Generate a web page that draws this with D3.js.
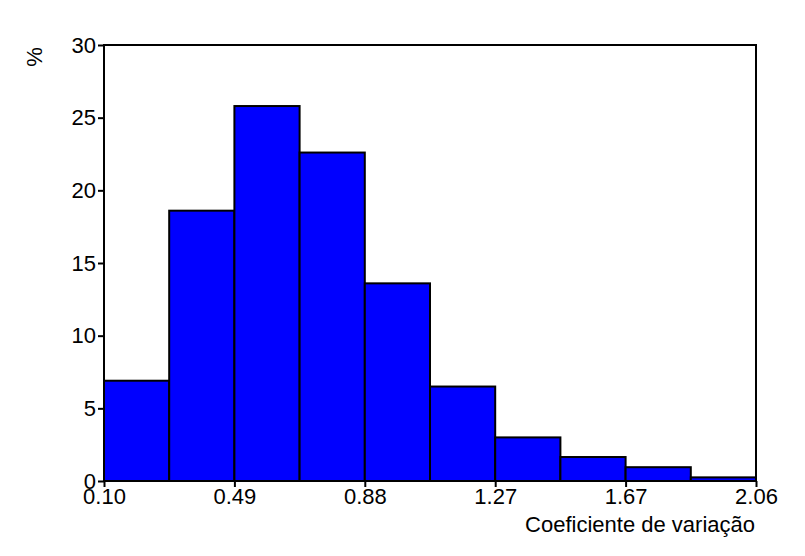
<html>
<head>
<style>
  body { margin: 0; background: white; }
  text { font-family: Arial, "Liberation Sans", sans-serif; }
</style>
</head>
<body>
<script src="https://d3js.org/d3.v7.min.js"></script>
<svg id="chart" width="805" height="556"></svg>
<script>
  // bin edges and percentages
  const binEdges = [0.10, 0.296, 0.492, 0.688, 0.884, 1.08, 1.276, 1.472, 1.668, 1.864, 2.06];
  const percents = [6.9, 18.6, 25.8, 22.6, 13.6, 6.5, 3.0, 1.65, 0.95, 0.25];
  const xTickValues = [0.10, 0.492, 0.884, 1.276, 1.668, 2.06];
  const xTickLabels = ['0.10', '0.49', '0.88', '1.27', '1.67', '2.06'];
  const yTicks = [0, 5, 10, 15, 20, 25, 30];

  const svg = d3.select('#chart');
  const plotLeft = 104, plotRight = 756, plotTop = 45, plotBottom = 481;

  const x = d3.scaleLinear().domain([0.10, 2.06]).range([plotLeft, plotRight]);
  const y = d3.scaleLinear().domain([0, 30]).range([plotBottom, plotTop]);

  svg.selectAll('rect.bar')
    .data(percents)
    .enter().append('rect')
    .attr('class', 'bar')
    .attr('x', (d, i) => x(binEdges[i]))
    .attr('width', (d, i) => x(binEdges[i + 1]) - x(binEdges[i]))
    .attr('y', d => y(d))
    .attr('height', d => plotBottom - y(d))
    .attr('fill', '#0000ff')
    .attr('stroke', 'black')
    .attr('stroke-width', 2);

  // frame
  svg.append('rect')
    .attr('x', plotLeft).attr('y', plotTop)
    .attr('width', plotRight - plotLeft).attr('height', plotBottom - plotTop)
    .attr('fill', 'none').attr('stroke', 'black').attr('stroke-width', 2);

  const yAxis = d3.axisLeft(y).tickValues(yTicks).tickSize(6).tickPadding(2);
  svg.append('g').attr('transform', `translate(${plotLeft},0)`).call(yAxis)
    .call(g => g.select('.domain').remove())
    .call(g => g.selectAll('line').attr('stroke-width', 2))
    .call(g => g.selectAll('text').attr('font-size', 22).attr('fill', 'black')
      .attr('font-family', 'Arial, Liberation Sans, sans-serif'));

  const xAxis = d3.axisBottom(x).tickValues(xTickValues)
    .tickFormat((d, i) => xTickLabels[i]).tickSize(6).tickPadding(1);
  svg.append('g').attr('transform', `translate(0,${plotBottom})`).call(xAxis)
    .call(g => g.select('.domain').remove())
    .call(g => g.selectAll('line').attr('stroke-width', 2))
    .call(g => g.selectAll('text').attr('font-size', 22).attr('fill', 'black')
      .attr('font-family', 'Arial, Liberation Sans, sans-serif'));

  svg.append('text')
    .attr('transform', 'translate(42,57) rotate(-90)')
    .attr('text-anchor', 'middle')
    .attr('font-size', 22)
    .text('%');

  svg.append('text')
    .attr('x', 755).attr('y', 532)
    .attr('text-anchor', 'end')
    .attr('font-size', 22)
    .text('Coeficiente de variação');
</script>
</body>
</html>
